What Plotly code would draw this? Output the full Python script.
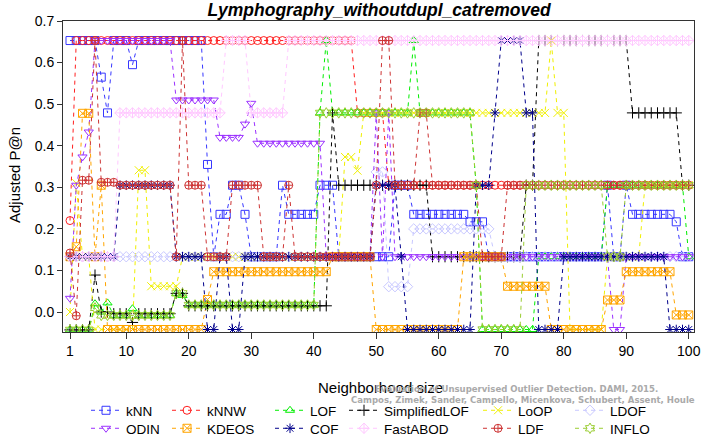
import plotly.graph_objects as go

x_vals = list(range(1, 101))
x_ticks = [1, 10, 20, 30, 40, 50, 60, 70, 80, 90, 100]
y_ticks = [0.0, 0.1, 0.2, 0.3, 0.4, 0.5, 0.6, 0.7]

knn = ([.653]*5 + [.565, .479] + [.653]*3 + [.595] + [.653]*11 + [.355, .133] + [.235]*2 + [.305]*2 + [.235]
       + [.133]*5 + [.305] + [.235]*5 + [.305]*3 + [.133]*9 + [.305]*3 + [.235]*9 + [.217]*3 + [.133]*19
       + [.305] + [.133]*2 + [.305] + [.235]*7 + [.217] + [.133]*2)
knnw = [.22] + [.653]*45 + [.479]*5 + [.305]*49
lof = ([-.043]*4 + [.02, .0, .022] + [-.008]*3 + [.008] + [-.008]*6 + [.045, .04] + [.017]*21 + [.479, .653]
       + [.479]*13 + [.653] + [.479]*9 + [.305] + [-.042]*9 + [.133]*11 + [.305]*13 + [.133])
slof = ([-.043]*4 + [.089, .0, .0] + [-.004]*3 + [-.025] + [-.004]*6 + [.045, .045] + [.015]*23 + [.479]
        + [.305]*15 + [.133]*15 + [.305]*2 + [.653]*15 + [.479]*8 + [.305]*2)
loop = ([.0, .31, .133, .133] + [-.042]*7 + [.341]*2 + [.062]*5 + [.133]*26 + [.373]*2 + [.34]
        + [.479]*30 + [.653] + [.479]*2 + [-.042]*6 + [.133]*6 + [.305]*8)
ldof = [.133]*49 + [.337]*2 + [.061]*4 + [.2]*13 + [.133]*32
odin = ([.033, .305, .373, .433] + [.653]*13 + [.51]*7 + [.42]*4 + [.452, .502] + [.406]*11 + [.133]*8
        + [.479, .133, .479] + [.133]*35 + [-.042]*2 + [.133]*11)
kdeos = ([.133, .157, .478, .478, .133, .305] + [-.042]*16 + [.03] + [.097]*19 + [.133]*7 + [-.042]*14
         + [.133]*7 + [.062]*7 + [-.042]*9 + [.029]*3 + [.097]*8 + [-.007]*3)
cof = ([.133]*8 + [.305]*9 + [.133]*5 + [-.042]*2 + [.133]*2 + [-.042]*2 + [.133]*21 + [.305]*4 + [.133]
       + [-.042]*11 + [.305]*3 + [.479] + [.653]*4 + [.479]*2 + [-.042]*4 + [.133]*17 + [-.042]*4)
fastabod = [.133]*8 + [.479]*17 + [.653]*4 + [.479]*6 + [.653]*65
ldf = ([.142, -.009, .317, .317, .653] + [.312]*3 + [.305]*9 + [.133, .653] + [.305]*3 + [.133]*4 + [.305]*5
       + [.133]*4 + [.305] + [.133]*13 + [.305] + [.653]*2 + [.305]*4 + [.479]*2 + [.305]*8 + [.133]*4
       + [.305]*30)
inflo = ([-.043]*4 + [.01] + [-.008]*12 + [.045]*2 + [.017]*21 + [.479]*25 + [.305] + [-.042]*7
         + [.305]*13 + [.133]*3 + [.305]*11)

series = [
    ("kNN", knn, "#3737ff", "square-open"),
    ("kNNW", knnw, "#ff2020", "circle-open"),
    ("LOF", lof, "#00ee00", "triangle-up-open"),
    ("SimplifiedLOF", slof, "#000000", "cross-thin-open"),
    ("LoOP", loop, "#f0f000", "x-thin-open"),
    ("LDOF", ldof, "#c8c8ff", "diamond-open"),
    ("ODIN", odin, "#9b30ff", "triangle-down-open"),
    ("KDEOS", kdeos, "#ffa500", "square-x-open"),
    ("COF", cof, "#00008b", "asterisk-open"),
    ("FastABOD", fastabod, "#ffc8ff", "diamond-cross-open"),
    ("LDF", ldf, "#cd3333", "circle-cross-open"),
    ("INFLO", inflo, "#9acd32", "hexagram-open"),
]

L, R, T, B = 63, 8, 21, 102
W, H = 702, 434
pw, ph = W - L - R, H - T - B

def px2x(px):
    return (px - L) / pw

def py2y(py):
    return (H - B - py) / ph

text_starts = [134, 215, 318, 392, 526, 618]
row_top = [395, 413]

fig = go.Figure()
for i, (name, vals, col, sym) in enumerate(series):
    key = "legend" if i == 0 else f"legend{i+1}"
    fig.add_trace(go.Scatter(
        x=x_vals, y=vals, name=name, mode="lines+markers", legend=key,
        line=dict(color=col, width=1, dash="4px,4px"),
        marker=dict(symbol=sym, size=8, color=col, line=dict(width=1, color=col)),
    ))
    col_i, row_i = i % 6, i // 6
    fig.update_layout({key: dict(
        x=px2x(text_starts[col_i] - 48), y=py2y(row_top[row_i]), xanchor="left", yanchor="top",
        orientation="v", bgcolor="rgba(0,0,0,0)", itemwidth=30,
        font=dict(family="Liberation Sans", size=13.5, color="#000"))})

fig.update_layout(
    width=W, height=H, margin=dict(l=L, r=R, t=T, b=B, autoexpand=False),
    paper_bgcolor="white", plot_bgcolor="white",
    font=dict(family="Liberation Sans", size=14, color="#000"),
    showlegend=True,
    title=dict(text="<b><i>Lymphography_withoutdupl_catremoved</i></b>", x=379 / W, xanchor="center",
               y=1 - 10 / H, yanchor="middle", font=dict(size=17.5, family="Liberation Sans")),
    xaxis=dict(range=[-0.12, 100.84], tickvals=x_ticks, ticks="outside", ticklen=6, tickcolor="#333",
               showgrid=False, zeroline=False, showline=True, linecolor="#333", linewidth=1, mirror=True,
               tickfont=dict(size=14), automargin=False),
    yaxis=dict(range=[-0.048, 0.7], tickvals=y_ticks, ticktext=[f"{v:.1f}" for v in y_ticks], ticks="outside",
               ticklen=5, tickcolor="#333", showgrid=False, zeroline=False, showline=True, linecolor="#333",
               linewidth=1, mirror=True, tickfont=dict(size=14), automargin=False),
)

fig.add_annotation(text="Adjusted P@n", textangle=-90, xref="paper", yref="paper", x=px2x(14), y=py2y(175),
                   showarrow=False, font=dict(size=15), xanchor="center", yanchor="middle")
fig.add_annotation(text="Neighborhood size", xref="paper", yref="paper", x=px2x(380), y=py2y(387),
                   showarrow=False, font=dict(size=15), xanchor="center", yanchor="middle")
wm_font = dict(size=9.5, color="#aaaaaa", family="DejaVu Sans Condensed, DejaVu Sans")
fig.add_annotation(text="<b>Evaluation of Unsupervised Outlier Detection. DAMI, 2015.</b>", xref="paper", yref="paper",
                   x=px2x(660), y=py2y(388.5), showarrow=False, font=wm_font, xanchor="right", yanchor="middle")
fig.add_annotation(text="<b>Campos, Zimek, Sander, Campello, Micenkova, Schubert, Assent, Houle</b>", xref="paper", yref="paper",
                   x=px2x(697), y=py2y(399.5), showarrow=False, font=wm_font, xanchor="right", yanchor="middle")

fig.write_html("out.html", config={"displayModeBar": False},
               post_script="document.body.style.margin='0px';document.body.style.padding='0px';")
